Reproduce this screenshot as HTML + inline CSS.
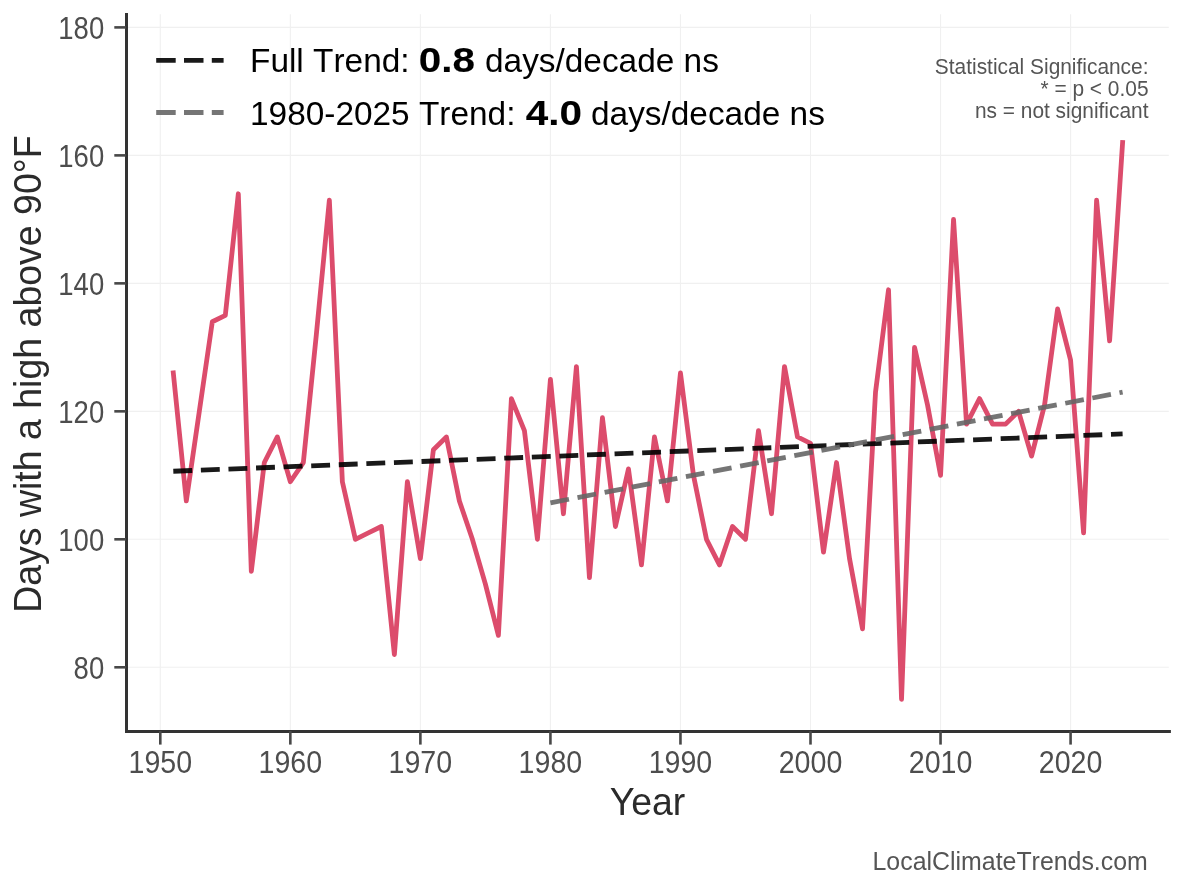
<!DOCTYPE html>
<html><head><meta charset="utf-8">
<style>
html,body{margin:0;padding:0;background:#fff;}
body{width:1184px;height:889px;overflow:hidden;}
svg{display:block;font-family:"Liberation Sans",sans-serif;font-kerning:none;will-change:transform;}
</style></head><body>
<svg width="1184" height="889" viewBox="0 0 1184 889">
<rect width="1184" height="889" fill="#fff"/>
<g stroke="#f0f0f0" stroke-width="1.1">
<line x1="160.30" y1="14.2" x2="160.30" y2="730" />
<line x1="290.34" y1="14.2" x2="290.34" y2="730" />
<line x1="420.38" y1="14.2" x2="420.38" y2="730" />
<line x1="550.42" y1="14.2" x2="550.42" y2="730" />
<line x1="680.46" y1="14.2" x2="680.46" y2="730" />
<line x1="810.50" y1="14.2" x2="810.50" y2="730" />
<line x1="940.54" y1="14.2" x2="940.54" y2="730" />
<line x1="1070.58" y1="14.2" x2="1070.58" y2="730" />
<line x1="128" y1="667.30" x2="1168.8" y2="667.30" />
<line x1="128" y1="539.32" x2="1168.8" y2="539.32" />
<line x1="128" y1="411.34" x2="1168.8" y2="411.34" />
<line x1="128" y1="283.36" x2="1168.8" y2="283.36" />
<line x1="128" y1="155.38" x2="1168.8" y2="155.38" />
<line x1="128" y1="27.40" x2="1168.8" y2="27.40" />
</g>
<polyline points="173.30,372.95 186.31,500.93 199.31,411.34 212.32,321.75 225.32,315.35 238.32,193.77 251.33,571.31 264.33,462.53 277.34,436.94 290.34,481.73 303.34,462.53 316.35,334.55 329.35,200.17 342.36,481.73 355.36,539.32 368.36,532.92 381.37,526.52 394.37,654.50 407.38,481.73 420.38,558.52 433.38,449.73 446.39,436.94 459.39,500.93 472.40,539.32 485.40,584.11 498.40,635.30 511.41,398.54 524.41,430.54 537.42,539.32 550.42,379.34 563.42,513.72 576.43,366.55 589.43,577.71 602.44,417.74 615.44,526.52 628.44,468.93 641.45,564.92 654.45,436.94 667.46,500.93 680.46,372.95 693.46,475.33 706.47,539.32 719.47,564.92 732.48,526.52 745.48,539.32 758.48,430.54 771.49,513.72 784.49,366.55 797.50,436.94 810.50,443.33 823.50,552.12 836.51,462.53 849.51,558.52 862.52,628.91 875.52,392.14 888.52,289.76 901.53,699.29 914.53,347.35 927.54,404.94 940.54,475.33 953.54,219.37 966.55,424.14 979.55,398.54 992.56,424.14 1005.56,424.14 1018.56,411.34 1031.57,456.13 1044.57,404.94 1057.58,308.96 1070.58,360.15 1083.58,532.92 1096.59,200.17 1109.59,340.95 1122.60,142.58" fill="none" stroke="#DC4C6C" stroke-width="4.8" stroke-linejoin="round" stroke-linecap="square"/>
<line x1="173.30" y1="471.23" x2="1122.60" y2="433.93" stroke="#000" stroke-opacity="0.9" stroke-width="4.8" stroke-dasharray="18.9 8.7"/>
<line x1="550.42" y1="502.85" x2="1122.60" y2="392.14" stroke="#666" stroke-opacity="0.9" stroke-width="4.8" stroke-dasharray="18.9 8.7"/>
<g stroke="#333333" stroke-width="3" fill="none">
<line x1="126.5" y1="13" x2="126.5" y2="733" />
<line x1="125" y1="731.45" x2="1170.9" y2="731.45" />
</g>
<g stroke="#484848" stroke-width="2.6">
<line x1="160.30" y1="731" x2="160.30" y2="744.6" />
<line x1="290.34" y1="731" x2="290.34" y2="744.6" />
<line x1="420.38" y1="731" x2="420.38" y2="744.6" />
<line x1="550.42" y1="731" x2="550.42" y2="744.6" />
<line x1="680.46" y1="731" x2="680.46" y2="744.6" />
<line x1="810.50" y1="731" x2="810.50" y2="744.6" />
<line x1="940.54" y1="731" x2="940.54" y2="744.6" />
<line x1="1070.58" y1="731" x2="1070.58" y2="744.6" />
<line x1="114.3" y1="667.30" x2="126" y2="667.30" />
<line x1="114.3" y1="539.32" x2="126" y2="539.32" />
<line x1="114.3" y1="411.34" x2="126" y2="411.34" />
<line x1="114.3" y1="283.36" x2="126" y2="283.36" />
<line x1="114.3" y1="155.38" x2="126" y2="155.38" />
<line x1="114.3" y1="27.40" x2="126" y2="27.40" />
</g>
<g fill="#4d4d4d" font-size="27.5">
<text transform="translate(160.30,772.9) scale(1.04,1.12)" text-anchor="middle">1950</text>
<text transform="translate(290.34,772.9) scale(1.04,1.12)" text-anchor="middle">1960</text>
<text transform="translate(420.38,772.9) scale(1.04,1.12)" text-anchor="middle">1970</text>
<text transform="translate(550.42,772.9) scale(1.04,1.12)" text-anchor="middle">1980</text>
<text transform="translate(680.46,772.9) scale(1.04,1.12)" text-anchor="middle">1990</text>
<text transform="translate(810.50,772.9) scale(1.04,1.12)" text-anchor="middle">2000</text>
<text transform="translate(940.54,772.9) scale(1.04,1.12)" text-anchor="middle">2010</text>
<text transform="translate(1070.58,772.9) scale(1.04,1.12)" text-anchor="middle">2020</text>
<text transform="translate(104.2,679.30) scale(1.0,1.12)" text-anchor="end">80</text>
<text transform="translate(104.2,551.32) scale(1.0,1.12)" text-anchor="end">100</text>
<text transform="translate(104.2,423.34) scale(1.0,1.12)" text-anchor="end">120</text>
<text transform="translate(104.2,295.36) scale(1.0,1.12)" text-anchor="end">140</text>
<text transform="translate(104.2,167.38) scale(1.0,1.12)" text-anchor="end">160</text>
<text transform="translate(104.2,39.40) scale(1.0,1.12)" text-anchor="end">180</text>
</g>
<text transform="translate(647.5,814.8) scale(1,1.04)" text-anchor="middle" font-size="37.4" fill="#2b2b2b" style="font-kerning:normal">Year</text>
<text transform="translate(40.8,374.1) rotate(-90) scale(1,1.03)" text-anchor="middle" font-size="37.5" fill="#2b2b2b">Days with a high above 90°F</text>
<!-- legend -->
<line x1="156.2" y1="60.4" x2="223.6" y2="60.4" stroke="#000" stroke-opacity="0.9" stroke-width="4.8" stroke-dasharray="19.5 8.3"/>
<line x1="156.2" y1="112.5" x2="223.6" y2="112.5" stroke="#666" stroke-opacity="0.9" stroke-width="4.8" stroke-dasharray="19.5 8.3"/>
<g font-size="33.4" fill="#000">
<text transform="translate(250,72.3) scale(1,1.02)">Full Trend:</text>
<text transform="translate(418.8,72.0) scale(1.21,1.06)" font-weight="bold" stroke="#000" stroke-width="0.1">0.8</text>
<text transform="translate(485,72.3) scale(1,1.02)">days/decade ns</text>
<text transform="translate(250,124.8) scale(1,1.02)">1980-2025 Trend:</text>
<text transform="translate(525.8,124.5) scale(1.21,1.06)" font-weight="bold" stroke="#000" stroke-width="0.1">4.0</text>
<text transform="translate(591,124.8) scale(1,1.02)">days/decade ns</text>
</g>
<g font-size="20.9" fill="#555555" text-anchor="end">
<text transform="translate(1148.5,73.8) scale(1,1.03)">Statistical Significance:</text>
<text transform="translate(1148.5,95.8) scale(1,1.03)">* = p &lt; 0.05</text>
<text transform="translate(1148.5,117.8) scale(1,1.03)">ns = not significant</text>
</g>
<text transform="translate(1147.8,870) scale(1,1.03)" text-anchor="end" font-size="24.9" fill="#555555">LocalClimateTrends.com</text>
</svg>
</body></html>
